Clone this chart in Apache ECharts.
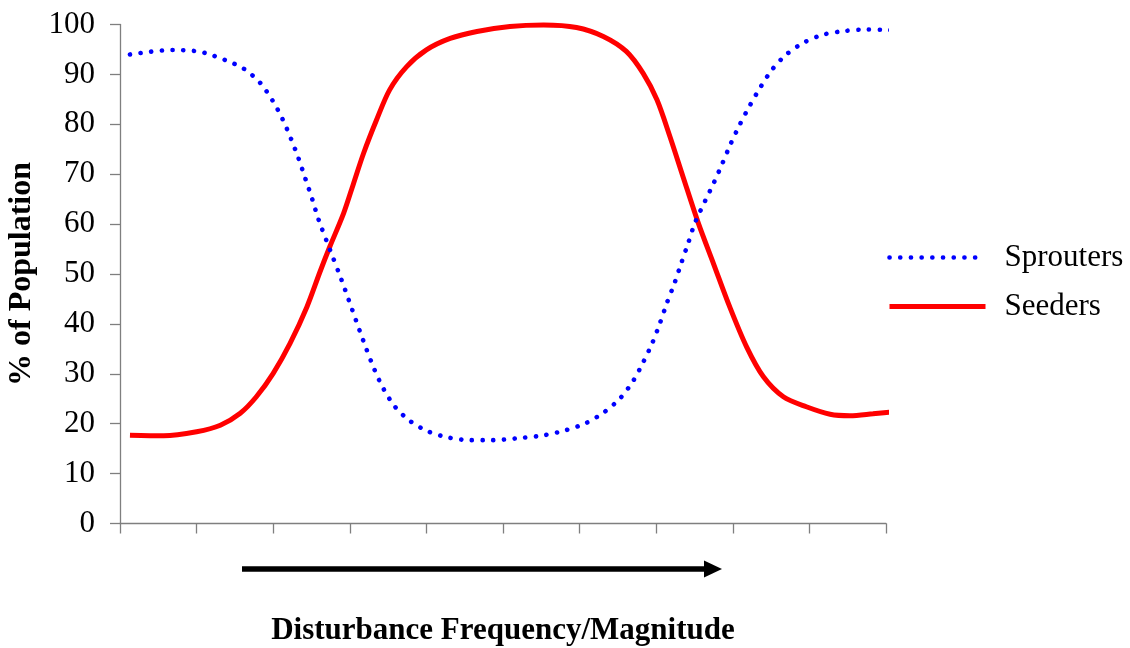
<!DOCTYPE html>
<html>
<head>
<meta charset="utf-8">
<style>
  html, body { margin: 0; padding: 0; background: #fff; }
  #chart { width: 1130px; height: 648px; }
</style>
<script src="https://cdn.jsdelivr.net/npm/echarts@6/dist/echarts.min.js"></script>
</head>
<body>
<div id="chart"></div>
<script>
// Position along the disturbance gradient (axis units 0-10)
const sproutersX = [0.13, 0.69, 0.97, 1.11, 1.37, 1.62, 1.83, 1.99, 2.12, 2.23, 2.33, 2.42, 2.51, 2.59,
  2.74, 2.89, 3.03, 3.17, 3.32, 3.44, 3.59, 3.79, 4.03, 4.30, 4.57, 4.85, 5.27, 5.54, 5.82, 6.08,
  6.32, 6.53, 6.70, 6.83, 6.95, 7.05, 7.14, 7.24, 7.33, 7.42, 7.51, 7.75, 7.86, 7.97, 8.09,
  8.22, 8.36, 8.51, 8.70, 8.93, 9.19, 9.46, 9.74, 10.02, 10.16];
const sproutersPct = [94.0, 94.9, 94.7, 94.3, 92.9, 91.1, 88.3, 84.8, 81.1, 77.2, 73.2, 69.1, 65.0, 61.0,
  54.9, 48.9, 42.9, 36.9, 30.9, 27.0, 23.4, 20.5, 18.4, 17.2, 16.7, 16.7, 17.2, 17.7, 18.7, 20.1,
  22.3, 25.1, 28.6, 32.3, 36.2, 40.2, 44.2, 48.2, 52.3, 56.3, 60.4, 68.2, 72.0, 76.0, 79.9,
  83.7, 87.4, 90.9, 94.0, 96.4, 98.0, 98.7, 99.0, 98.9, 98.8];

const seedersX = [0.13, 0.57, 1.00, 1.31, 1.57, 1.78, 2.00, 2.22, 2.44, 2.61, 2.74, 2.92, 3.05, 3.18,
  3.35, 3.52, 3.74, 4.00, 4.31, 4.66, 5.09, 5.53, 5.96, 6.31, 6.61, 6.83, 7.01, 7.18, 7.35, 7.55,
  7.75, 7.96, 8.18, 8.40, 8.66, 8.96, 9.27, 9.53, 9.83, 10.16];
const seedersPct = [17.7, 17.6, 18.4, 19.7, 22.1, 25.4, 30.1, 36.1, 43.4, 50.4, 55.5, 62.2, 68.2, 74.2,
  80.9, 86.9, 91.5, 94.9, 97.2, 98.6, 99.6, 99.9, 99.4, 97.6, 94.6, 90.2, 84.9, 77.5, 69.5, 60.2,
  52.0, 43.4, 35.4, 29.4, 25.4, 23.4, 21.9, 21.6, 22.0, 22.5];

const seriesNames = ['Sprouters', 'Seeders'];
const yTicks = { min: 0, max: 100, step: 10 };
const xTicks = { min: 0, max: 10, step: 1 };

const pair = (xs, ys) => xs.map((x, i) => [x, ys[i]]);

const serif = '"Liberation Serif", "Times New Roman", serif';
const axisGray = '#7f7f7f';
const blue = '#0000ff';
const red = '#ff0000';
const sproutersLine = { color: blue, width: 4.6, type: [0.1, 10.6], cap: 'round' };
const seedersLine = { color: red, width: 5, type: 'solid', cap: 'butt' };

const chart = echarts.init(document.getElementById('chart'), null, { renderer: 'canvas' });

chart.setOption({
  animation: false,
  backgroundColor: '#ffffff',
  grid: {
    left: 120, right: 244, top: 24.5, bottom: 124.5,
    containLabel: false,
    outerBoundsMode: 'none'
  },
  xAxis: {
    type: 'value',
    min: xTicks.min, max: xTicks.max, interval: xTicks.step,
    name: 'Disturbance Frequency/Magnitude',
    nameLocation: 'middle',
    nameGap: 92,
    nameTextStyle: { fontFamily: serif, fontWeight: 'bold', fontSize: 31, color: '#000' },
    axisLine: { show: true, onZero: false, lineStyle: { color: axisGray, width: 1.3 } },
    axisTick: { show: true, inside: false, length: 10, lineStyle: { color: axisGray, width: 1.3 } },
    axisLabel: { show: false },
    splitLine: { show: false }
  },
  yAxis: {
    type: 'value',
    min: yTicks.min, max: yTicks.max, interval: yTicks.step,
    name: '% of Population',
    nameLocation: 'middle',
    nameRotate: 90,
    nameGap: 71,
    nameTextStyle: { fontFamily: serif, fontWeight: 'bold', fontSize: 32, color: '#000' },
    axisLine: { show: true, lineStyle: { color: axisGray, width: 1.3 } },
    axisTick: { show: true, inside: false, length: 10, lineStyle: { color: axisGray, width: 1.3 } },
    axisLabel: { fontFamily: serif, fontSize: 31, color: '#000', margin: 25 },
    splitLine: { show: false }
  },
  legend: {
    orient: 'vertical',
    left: 882,
    top: 237,
    itemWidth: 96,
    itemHeight: 14,
    itemGap: 18,
    itemStyle: { opacity: 0 },
    data: [
      { name: seriesNames[0], lineStyle: sproutersLine },
      { name: seriesNames[1], lineStyle: seedersLine }
    ],
    textStyle: { fontFamily: serif, fontSize: 31, color: '#000', lineHeight: 30, padding: [0, 0, 0, 14] }
  },
  series: [
    {
      name: seriesNames[0],
      type: 'line',
      data: pair(sproutersX, sproutersPct),
      smooth: 0.3,
      showSymbol: false,
      symbol: 'none',
      clip: false,
      lineStyle: sproutersLine,
      itemStyle: { color: blue },
      z: 3
    },
    {
      name: seriesNames[1],
      type: 'line',
      data: pair(seedersX, seedersPct),
      smooth: 0.3,
      showSymbol: false,
      symbol: 'none',
      clip: false,
      lineStyle: seedersLine,
      itemStyle: { color: red },
      z: 2
    }
  ],
  graphic: [
    {
      type: 'line',
      shape: { x1: 242, y1: 569, x2: 708, y2: 569 },
      style: { stroke: '#000', lineWidth: 5.5 }
    },
    {
      type: 'polygon',
      shape: { points: [[704, 560.5], [722, 569], [704, 577.5]] },
      style: { fill: '#000' }
    }
  ]
});
</script>
</body>
</html>
